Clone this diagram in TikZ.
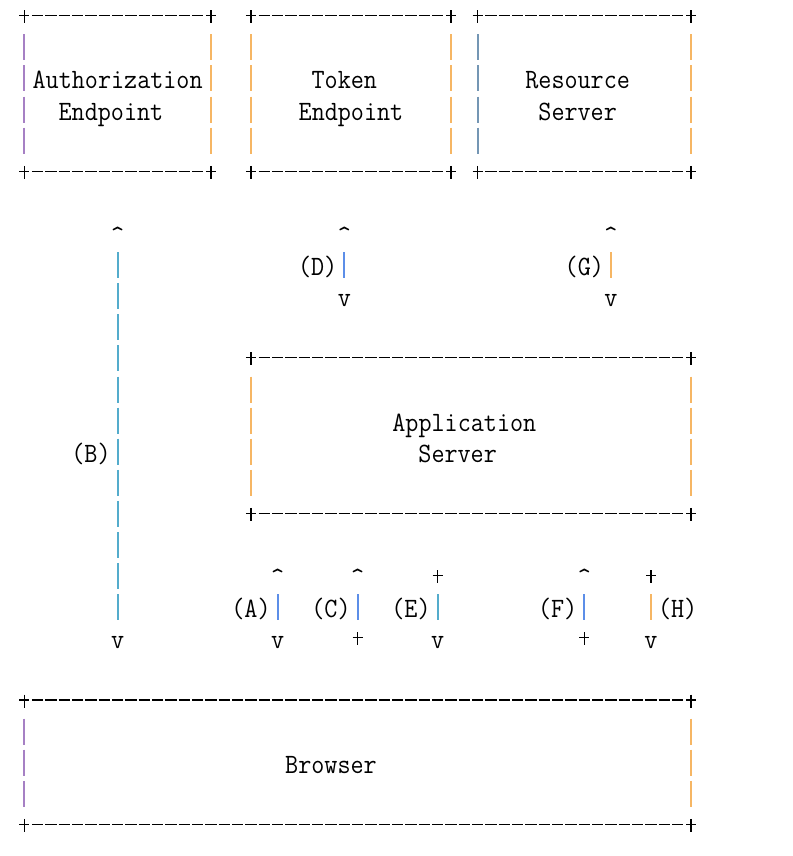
\documentclass[tikz,border=0pt]{standalone}
\usepackage{fontspec}
\usepackage{graphicx}
\definecolor{cpur}{RGB}{166,128,196}
\definecolor{corg}{RGB}{246,182,100}
\definecolor{cblu}{RGB}{92,142,232}
\definecolor{ctea}{RGB}{84,172,204}
\definecolor{cgry}{RGB}{116,150,180}
\newcommand\asx[1]{\scalebox{0.907}[1]{#1}}
\newcommand\pluspt[2][black]{\draw[crossline,#1] ([xshift=-5pt]#2) -- ([xshift=5pt]#2) ([yshift=5.5pt]#2) -- ([yshift=-7.5pt]#2);}
\newcommand\abox[7]{%
 \coordinate (#1-nw) at (#2,#3);
 \coordinate (#1-ne) at (#4,#3);
 \coordinate (#1-sw) at (#2,#5);
 \coordinate (#1-se) at (#4,#5);
 \draw[hdash] ([xshift=7.667pt]#1-nw) -- ([xshift=-7.667pt]#1-ne);
 \draw[hdash] ([xshift=7.667pt]#1-sw) -- ([xshift=-7.667pt]#1-se);
 \draw[vbar,#6] ([yshift=-18.6pt]#1-nw) -- ([yshift=17.6pt]#1-sw);
 \draw[vbar,#7] ([yshift=-18.6pt]#1-ne) -- ([yshift=17.6pt]#1-se);
 \pluspt{#1-nw}\pluspt{#1-ne}\pluspt{#1-sw}\pluspt{#1-se}}
\newcommand\lbl[4]{\node[txt] (#1) at ([yshift=-11pt]#2,#3) {\asx{#4}};}
\newcommand\vconn[5]{%
 \coordinate (#1-a) at (#2,#3);
 \coordinate (#1-b) at (#2,#4);
 \draw[vbar,#5] ([yshift=12.5pt]#1-a) -- ([yshift=-13.5pt]#1-b);}
\begin{document}
\begin{tikzpicture}[x=13.334pt,y=-31.1pt,
 txt/.style={anchor=base,inner sep=0pt,font=\fontsize{28}{28}\selectfont\ttfamily},
 hdash/.style={line width=1.1pt,black,dash pattern=on 11.334pt off 2pt},
 vbar/.style={line width=1.8pt,dash pattern=on 26pt off 5.1pt},
 crossline/.style={line width=1.1pt,black}]
\useasboundingbox[fill=white] (-1.82241,-0.50804) rectangle (57.5746,27.0161);
% boxes
\abox{auth}{0}{0}{14}{5}{cpur}{corg}
\abox{token}{17}{0}{32}{5}{corg}{corg}
\abox{res}{34}{0}{50}{5}{cgry}{corg}
\abox{app}{17}{11}{50}{16}{corg}{corg}
\abox{brw}{0}{22}{50}{26}{cpur}{corg}
% box texts
\lbl{authA}{7}{2}{Authorization}
\lbl{authB}{6.5}{3}{Endpoint}
\lbl{tokA}{24}{2}{Token}
\lbl{tokB}{24.5}{3}{Endpoint}
\lbl{resA}{41.5}{2}{Resource}
\lbl{resB}{41.5}{3}{Server}
\lbl{appA}{33}{13}{Application}
\lbl{appB}{32.5}{14}{Server}
\lbl{brwA}{23}{24}{Browser}
% connector B
\lbl{Bup}{7}{7}{\textasciicircum}
\vconn{B}{7}{8}{19}{ctea}
\lbl{Bdn}{7}{20}{v}
\lbl{Blab}{5}{14}{(B)}
% connector D
\lbl{Dup}{24}{7}{\textasciicircum}
\vconn{D}{24}{8}{8}{cblu}
\lbl{Ddn}{24}{9}{v}
\lbl{Dlab}{22}{8}{(D)}
% connector G
\lbl{Gup}{44}{7}{\textasciicircum}
\vconn{G}{44}{8}{8}{corg}
\lbl{Gdn}{44}{9}{v}
\lbl{Glab}{42}{8}{(G)}
% connector A
\lbl{Aup}{19}{18}{\textasciicircum}
\vconn{A}{19}{19}{19}{cblu}
\lbl{Adn}{19}{20}{v}
\lbl{Alab}{17}{19}{(A)}
% connector C
\lbl{Cup}{25}{18}{\textasciicircum}
\vconn{C}{25}{19}{19}{cblu}
\coordinate (Cdn) at (25,20);
\pluspt{Cdn}
\lbl{Clab}{23}{19}{(C)}
% connector E
\coordinate (Eup) at (31,18);
\pluspt{Eup}
\vconn{E}{31}{19}{19}{ctea}
\lbl{Edn}{31}{20}{v}
\lbl{Elab}{29}{19}{(E)}
% connector F
\lbl{Fup}{42}{18}{\textasciicircum}
\vconn{F}{42}{19}{19}{cblu}
\coordinate (Fdn) at (42,20);
\pluspt{Fdn}
\lbl{Flab}{40}{19}{(F)}
% connector H
\coordinate (Hup) at (47,18);
\pluspt{Hup}
\vconn{H}{47}{19}{19}{corg}
\lbl{Hdn}{47}{20}{v}
\lbl{Hlab}{49}{19}{(H)}
\end{tikzpicture}
\end{document}
